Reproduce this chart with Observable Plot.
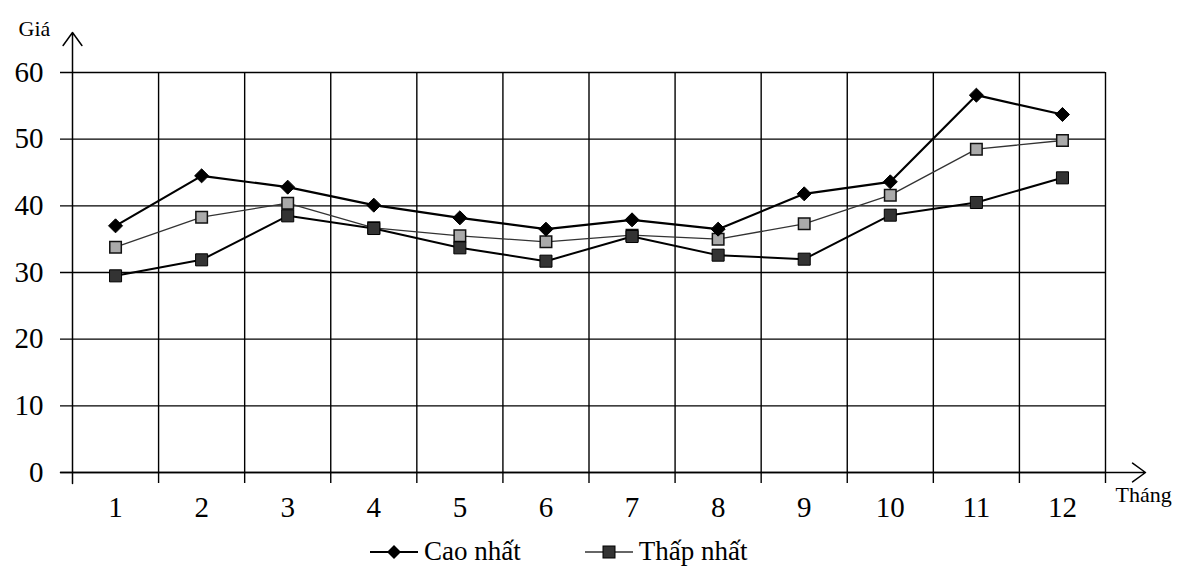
<!DOCTYPE html>
<html>
<head>
<meta charset="utf-8">
<script src="https://cdn.jsdelivr.net/npm/d3@7"></script>
<script src="https://cdn.jsdelivr.net/npm/@observablehq/plot@0.6"></script>
<style>
  html, body { margin: 0; padding: 0; background: #fff; }
  #wrap { position: relative; width: 1179px; height: 572px; font-family: "Liberation Serif", "DejaVu Serif", serif; }
  #legend { position: absolute; top: 536px; left: 368px; display: flex; align-items: center; font-size: 27px; color: #000; white-space: nowrap; }
  #legend .item { display: flex; align-items: center; }
  #legend svg { display: block; }
</style>
</head>
<body>
<div id="wrap">
  <div id="chart"></div>
  <div id="legend"></div>
</div>
<script>
const months = [1, 2, 3, 4, 5, 6, 7, 8, 9, 10, 11, 12];
const caoNhat = [37, 44.5, 42.8, 40.1, 38.2, 36.5, 37.9, 36.5, 41.8, 43.6, 56.6, 53.7];
const trungBinh = [33.8, 38.3, 40.4, 36.7, 35.5, 34.6, 35.6, 35, 37.3, 41.6, 48.5, 49.8];
const thapNhat = [29.5, 31.9, 38.5, 36.6, 33.7, 31.7, 35.4, 32.6, 32, 38.6, 40.5, 44.2];
const yTicks = [0, 10, 20, 30, 40, 50, 60];
const seriesNames = ["Cao nhất", "Thấp nhất"];
const xTitle = "Tháng";
const yTitle = "Giá";

const rows = (vals) => months.map((m, i) => ({month: m, value: vals[i]}));
const highRows = rows(caoNhat);
const midRows = rows(trungBinh);
const lowRows = rows(thapNhat);

// month boundaries for the vertical grid
const xBounds = [months[0] - 0.5, ...months.map(m => m + 0.5)];
const xMin = xBounds[0], xMax = xBounds[xBounds.length - 1];

// rotated-square diamond symbol
const diamond = {
  draw(ctx, size) {
    const h = Math.sqrt(size / 2);
    ctx.moveTo(0, -h); ctx.lineTo(h, 0); ctx.lineTo(0, h); ctx.lineTo(-h, 0); ctx.closePath();
  }
};

const font = "Liberation Serif";
const pxPerX = (1105 - 72) / 12;
const pxPerY = (472 - 72) / 60;

const chart = Plot.plot({
  width: 1179,
  height: 525,
  marginLeft: 72,
  marginRight: 74,
  marginTop: 72,
  marginBottom: 53,
  x: {domain: [xMin, xMax], axis: null},
  y: {domain: [0, 60], axis: null},
  style: {fontFamily: font, background: "#fff", color: "#000"},
  marks: [
    // horizontal grid
    Plot.ruleY(yTicks, {x1: xMin - 12 / pxPerX, x2: xMax, stroke: "#000", strokeWidth: 1.4}),
    // vertical grid (with tick stubs below the axis)
    Plot.ruleX(xBounds.slice(1), {y1: -11 / pxPerY, y2: 60, stroke: "#000", strokeWidth: 1.4}),
    // axes with open arrowheads
    Plot.arrow([{x1: xMin, y1: -11 / pxPerY, x2: xMin, y2: 60 + 40 / pxPerY}], {
      x1: "x1", y1: "y1", x2: "x2", y2: "y2", stroke: "#000", strokeWidth: 1.5, headLength: 16, headAngle: 72
    }),
    Plot.arrow([{x1: xMin - 12 / pxPerX, y1: 0, x2: xMax + 40 / pxPerX, y2: 0}], {
      x1: "x1", y1: "y1", x2: "x2", y2: "y2", stroke: "#000", strokeWidth: 1.5, headLength: 16, headAngle: 72
    }),
    // lines
    Plot.line(midRows, {x: "month", y: "value", stroke: "#333", strokeWidth: 1.3}),
    Plot.line(lowRows, {x: "month", y: "value", stroke: "#000", strokeWidth: 2}),
    Plot.line(highRows, {x: "month", y: "value", stroke: "#000", strokeWidth: 2.2}),
    // markers
    Plot.dot(midRows, {x: "month", y: "value", symbol: "square", r: 6.5, fill: "#aaa", stroke: "#111", strokeWidth: 1.5}),
    Plot.dot(lowRows, {x: "month", y: "value", symbol: "square", r: 6.8, fill: "#333", stroke: "#000", strokeWidth: 1}),
    Plot.dot(highRows, {x: "month", y: "value", symbol: diamond, r: 5.6, fill: "#000", stroke: "#000", strokeWidth: 1}),
    // tick labels
    Plot.text(yTicks, {x: xMin, y: d => d, text: d => String(d), dx: -29, textAnchor: "end", fontSize: 29, fill: "#000"}),
    Plot.text(months, {x: d => d, y: 0, text: d => String(d), dy: 35, fontSize: 29, fill: "#000"}),
    // axis titles
    Plot.text([yTitle], {frameAnchor: "top-left", dx: -54, dy: -52, textAnchor: "start", fontSize: 22, fill: "#000"}),
    Plot.text([xTitle], {frameAnchor: "bottom-right", dx: 10, dy: 29, textAnchor: "start", fontSize: 22, fill: "#000"})
  ]
});
document.getElementById("chart").appendChild(chart);

// legend
const legend = document.getElementById("legend");
const markers = [
  `<svg width="52" height="20"><line x1="2" y1="10" x2="50" y2="10" stroke="#000" stroke-width="2"/><path d="M26,3 L33,10 L26,17 L19,10 Z" fill="#000"/></svg>`,
  `<svg width="52" height="20"><line x1="2" y1="10" x2="50" y2="10" stroke="#333" stroke-width="1.5"/><rect x="20" y="4" width="12" height="12" fill="#333" stroke="#000"/></svg>`
];
seriesNames.forEach((name, i) => {
  const item = document.createElement("div");
  item.className = "item";
  item.style.marginRight = i === 0 ? "62px" : "0";
  item.innerHTML = markers[i] + `<span style="margin-left:4px">${name}</span>`;
  legend.appendChild(item);
});
</script>
</body>
</html>
